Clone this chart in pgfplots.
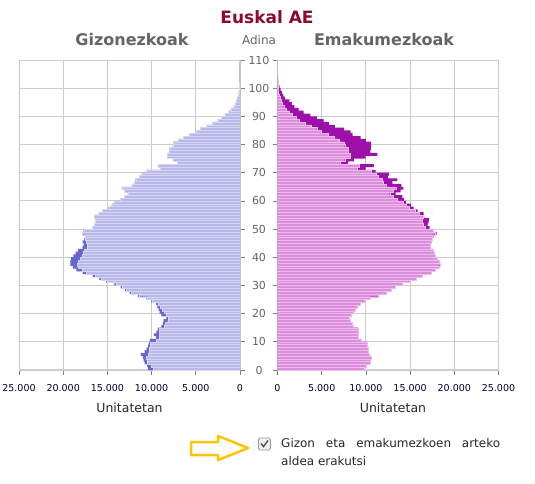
\documentclass[border=0pt]{standalone}
\usepackage{pgfplots}
\pgfplotsset{compat=1.18}
\usepackage{pgfplotstable}
\usepackage{fontspec}
\setmainfont{DejaVu Sans}

\definecolor{mlight}{RGB}{184,184,234}
\definecolor{mstripe}{RGB}{214,214,244}
\definecolor{mdark}{RGB}{102,102,206}
\definecolor{flight}{RGB}{218,142,220}
\definecolor{fstripe}{RGB}{238,188,238}
\definecolor{fdark}{RGB}{158,16,170}
\definecolor{gridgray}{RGB}{204,204,204}
\definecolor{titlered}{RGB}{139,10,46}
\definecolor{headgray}{RGB}{100,100,100}
\definecolor{arrowgold}{RGB}{255,196,0}

% population by age: M = gizonezkoak, F = emakumezkoak
\pgfplotstableread{
age M F
0 10400 9800
1 10500 10000
2 10800 10500
3 10900 10530
4 11000 10600
5 11200 10350
6 10800 10300
7 10550 10230
8 10400 10160
9 10300 10160
10 10200 9500
11 9500 9090
12 9750 9100
13 9450 9090
14 9300 9090
15 8900 8570
16 8700 8450
17 8640 8180
18 8330 8100
19 8900 8350
20 9090 8570
21 9200 8830
22 9350 9000
23 9500 9300
24 10030 9900
25 10600 10450
26 11550 11350
27 12500 12300
28 13000 12850
29 13500 13350
30 14200 14050
31 15150 15000
32 15900 15700
33 16670 16400
34 17800 17350
35 18500 17800
36 18900 18250
37 19200 18400
38 19200 18300
39 19100 18050
40 18850 17850
41 18600 17750
42 18300 17600
43 17800 17250
44 17700 17300
45 17800 17400
46 17600 17500
47 17500 17650
48 17800 18000
49 17700 17600
50 16700 17200
51 16500 16970
52 16350 17100
53 16400 17160
54 16480 16600
55 16000 16520
56 15600 15840
57 14850 15400
58 14500 15080
59 14200 14510
60 13520 14300
61 13100 14130
62 12690 13370
63 13070 13940
64 13370 14250
65 12240 14000
66 11930 13000
67 11800 13570
68 11400 12500
69 11170 12620
70 10600 11100
71 9000 9970
72 9200 10900
73 7100 8000
74 7600 8640
75 8200 9970
76 8200 11300
77 8000 10500
78 7950 10550
79 7600 10600
80 7500 10550
81 7000 10000
82 6400 9400
83 5700 8500
84 4900 8260
85 4500 7500
86 3800 6500
87 3100 5800
88 2500 5230
89 2100 4470
90 1700 3720
91 1300 2950
92 1000 2390
93 700 1900
94 500 1630
95 380 1330
96 280 870
97 200 650
98 130 500
99 90 350
100 60 250
101 40 150
102 25 100
103 15 60
104 10 40
105 5 25
106 3 15
107 2 10
108 1 5
109 0 3
110 0 2
}\pyramid

\pgfplotsset{
  pyr/.style={
    scale only axis, width=221pt, height=310pt,
    ymin=0, ymax=110, ytick={0,10,...,110},
    scaled x ticks=false,
    xmajorgrids, ymajorgrids,
    grid style={gridgray, line width=1pt},
    axis line style={gridgray, line width=1.6pt, -},
    tick style={gray, line width=0.8pt},
    tick align=outside, major tick length=5pt,
    xticklabel style={font=\fontsize{9.5}{11}\selectfont, text=black!80!blue, yshift=-6pt},
    xlabel=Unitatetan,
    xlabel style={font=\fontsize{12.5}{14}\selectfont, text=black!85, yshift=-4pt},
  },
  darkbars/.style={xbar, bar width=1.02, bar shift=0pt, draw=none},
  lightbars/.style={xbar, bar width=1.0, bar shift=0pt, line width=0.35pt},
}

\begin{document}
\begin{tikzpicture}
\path[use as bounding box] (0,0) rectangle (535pt,483pt);

% Gizonezkoak
\begin{axis}[pyr, at={(19pt,113pt)}, anchor=south west,
  xmin=-25000, xmax=0, xtick={-25000,-20000,-15000,-10000,-5000,0},
  xticklabels={25.000,20.000,15.000,10.000,5.000,0},
  axis x line*=bottom, axis y line*=right,
  yticklabels={0,10,20,30,40,50,60,70,80,90,100,110},
  yticklabel style={anchor=center, xshift=14pt, text=headgray,
    font=\fontsize{11}{13}\selectfont},
]
\addplot[darkbars, fill=mdark] table[x expr=-\thisrow{M}, y expr=\thisrow{age}+0.5] {\pyramid};
\addplot[lightbars, fill=mlight, draw=mstripe] table[x expr={-min(\thisrow{M},\thisrow{F})}, y expr=\thisrow{age}+0.5] {\pyramid};
\end{axis}

% Emakumezkoak
\begin{axis}[pyr, at={(277.5pt,113pt)}, anchor=south west,
  xmin=0, xmax=25000, xtick={0,5000,10000,15000,20000,25000},
  xticklabels={0,5.000,10.000,15.000,20.000,25.000},
  axis x line*=bottom, axis y line*=left,
  yticklabels={},
  xlabel style={xshift=5pt},
]
\addplot[darkbars, fill=fdark] table[x=F, y expr=\thisrow{age}+0.5] {\pyramid};
\addplot[lightbars, fill=flight, draw=fstripe] table[x expr={min(\thisrow{M},\thisrow{F})}, y expr=\thisrow{age}+0.5] {\pyramid};
\end{axis}

% titles
\node[font=\bfseries\fontsize{17}{20}\selectfont, text=titlered] at (267pt,466pt) {Euskal AE};
\node[font=\bfseries\fontsize{16}{19}\selectfont, text=headgray] at (132pt,443pt) {Gizonezkoak};
\node[font=\fontsize{12}{14}\selectfont, text=headgray] at (259pt,443pt) {Adina};
\node[font=\bfseries\fontsize{16}{19}\selectfont, text=headgray] at (384pt,443pt) {Emakumezkoak};

% checkbox and arrow
\draw[arrowgold, line width=2.5pt, line join=round, fill=white]
  (191pt,41pt) -- (218pt,41pt) -- (218pt,47pt) -- (248pt,35pt) -- (218pt,23pt) -- (218pt,28pt) -- (191pt,28pt) -- cycle;
\draw[rounded corners=1.5pt, draw=gray!80, fill=gray!12, line width=0.8pt] (258.5pt,33pt) rectangle (270.5pt,45pt);
\draw[line width=1.4pt, black!70] (261pt,39.5pt) -- (263.5pt,36.5pt) -- (268pt,42.5pt);
\node[anchor=base west, inner sep=0pt, font=\fontsize{12}{14}\selectfont, text=black!85] at (281pt,36pt)
  {\makebox[219pt][s]{Gizon eta emakumezkoen arteko}};
\node[anchor=base west, inner sep=0pt, font=\fontsize{12}{14}\selectfont, text=black!85] at (281pt,18pt)
  {aldea erakutsi};
\end{tikzpicture}
\end{document}
